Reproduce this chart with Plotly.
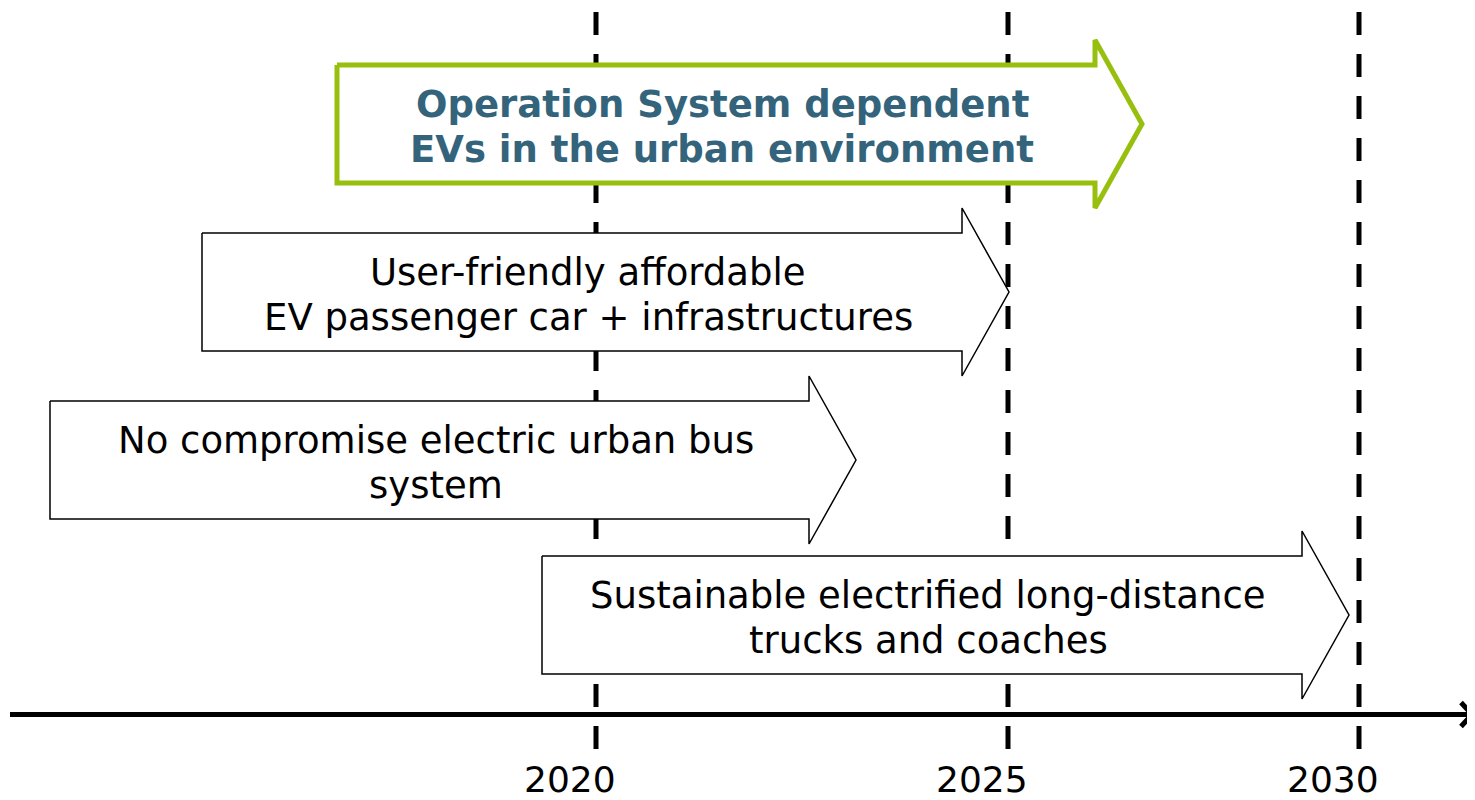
import plotly.graph_objects as go

# ---------------- data ----------------
years = ["2020", "2025", "2030"]
year_pos = [596, 1008, 1359]          # schematic timeline positions (px units)

arrow_line1 = ["Operation System dependent", "User-friendly affordable",
               "No compromise electric urban bus", "Sustainable electrified long-distance"]
arrow_line2 = ["EVs in the urban environment", "EV passenger car + infrastructures",
               "system", "trucks and coaches"]
arrow_start = [337, 202, 50, 542]
arrow_tip = [1142, 1009, 856, 1349]
arrow_row = [124, 292, 460, 615]
arrow_highlight = [True, False, False, False]

# ---------------- style ----------------
BODY_HALF = 59
HEAD_HALF = 84
HEAD_LEN = 47
LINE_GAP = 22.5
TEXT_DY = 2.5
GREEN = "#97BF0D"
TEAL = "#33647B"
FONT = "DejaVu Sans"
AXIS_Y = 714.5
PAGE_OFF = 8   # default body margin of the html page

fig = go.Figure()

# dashed year markers (behind arrows)
for xp in year_pos:
    fig.add_trace(go.Scatter(x=[xp, xp], y=[12, 752], mode="lines",
                             line=dict(color="black", width=5, dash="23px,19px"),
                             hoverinfo="skip", showlegend=False))

# arrows
for i in range(len(arrow_line1)):
    x0, xt, yc = arrow_start[i], arrow_tip[i], arrow_row[i]
    xn = xt - HEAD_LEN
    xs = [x0, xn, xn, xt, xn, xn, x0, x0]
    ys = [yc - BODY_HALF, yc - BODY_HALF, yc - HEAD_HALF, yc, yc + HEAD_HALF,
          yc + BODY_HALF, yc + BODY_HALF, yc - BODY_HALF]
    hl = arrow_highlight[i]
    fig.add_trace(go.Scatter(x=xs, y=ys, mode="lines", fill="toself",
                             fillcolor="white",
                             line=dict(color=GREEN if hl else "black",
                                       width=5 if hl else 1.5),
                             hoverinfo="skip", showlegend=False))
    cx = (x0 + xn) / 2 + 6
    for txt, dy in ((arrow_line1[i], -LINE_GAP), (arrow_line2[i], LINE_GAP)):
        fig.add_annotation(x=cx, y=yc + dy + TEXT_DY,
                           text=f"<b>{txt}</b>" if hl else txt,
                           showarrow=False, xanchor="center", yanchor="middle",
                           font=dict(family=FONT, size=37,
                                     color=TEAL if hl else "black"))

# time axis with arrowhead
fig.add_trace(go.Scatter(x=[10, 1472], y=[AXIS_Y, AXIS_Y], mode="lines",
                         line=dict(color="black", width=5),
                         hoverinfo="skip", showlegend=False))
fig.add_trace(go.Scatter(x=[1461, 1472, 1461], y=[AXIS_Y - 12, AXIS_Y, AXIS_Y + 12],
                         mode="lines", line=dict(color="black", width=5),
                         hoverinfo="skip", showlegend=False))

for lab, xp in zip(years, year_pos):
    fig.add_annotation(x=xp, y=779, text=lab, showarrow=False, xshift=-26,
                       xanchor="center", yanchor="middle",
                       font=dict(family=FONT, size=36, color="black"))

fig.update_layout(
    width=1475 - PAGE_OFF, height=800 - PAGE_OFF,
    margin=dict(l=0, r=0, t=0, b=0),
    paper_bgcolor="white", plot_bgcolor="white",
    xaxis=dict(range=[PAGE_OFF, 1475], visible=False, fixedrange=True),
    yaxis=dict(range=[800, PAGE_OFF], visible=False, fixedrange=True),
    showlegend=False,
)

fig.write_html("out.html")
